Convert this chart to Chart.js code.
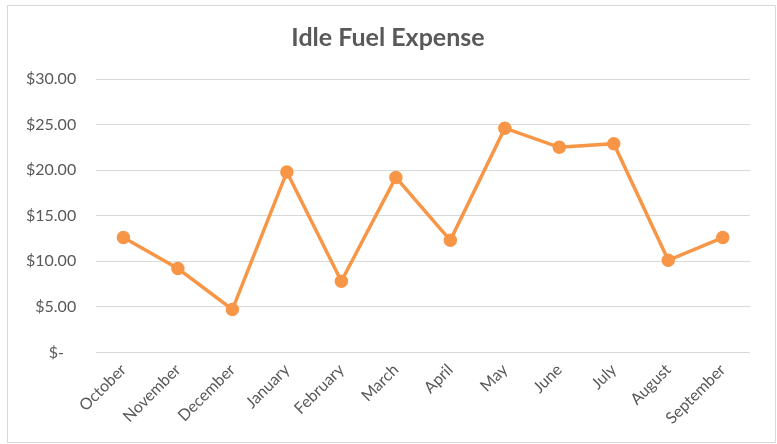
<!DOCTYPE html>
<html>
<head>
<meta charset="utf-8">
<style>
  html, body { margin: 0; padding: 0; background: #fff; }
  .chart-box {
    position: absolute; left: 7px; top: 5px;
    width: 767px; height: 436px;
    border: 1px solid #d9d9d9; background: #fff;
  }
</style>
</head>
<body>
<div class="chart-box"><canvas id="fuelChart"></canvas></div>
<script src="https://cdn.jsdelivr.net/npm/chart.js@4.4.0/dist/chart.umd.min.js"></script>
<script>
  // data
  const months = ['October', 'November', 'December', 'January', 'February', 'March',
                  'April', 'May', 'June', 'July', 'August', 'September'];
  const idleFuelCost = [12.6, 9.2, 4.7, 19.8, 7.8, 19.2, 12.3, 24.6, 22.5, 22.9, 10.1, 12.6];
  const yTicks = [0, 5, 10, 15, 20, 25, 30];

  const orange = '#F79646';
  const textGray = '#595959';
  const fontFamily = 'Lato, "Open Sans", sans-serif';

  const ctx = document.getElementById('fuelChart');
  new Chart(ctx, {
    type: 'line',
    data: {
      labels: months,
      datasets: [{
        label: 'Idle Fuel Expense',
        data: idleFuelCost,
        borderColor: orange,
        backgroundColor: orange,
        borderWidth: 3.5,
        pointRadius: 5,
        pointBackgroundColor: orange,
        pointBorderColor: orange,
        tension: 0
      }]
    },
    options: {
      responsive: true,
      maintainAspectRatio: false,
      animation: false,
      layout: { padding: { left: 18, right: 25, top: 8, bottom: 6 } },
      plugins: {
        legend: { display: false },
        tooltip: { enabled: false },
        title: {
          display: true,
          text: 'Idle Fuel Expense',
          color: textGray,
          font: { family: fontFamily, size: 25, weight: 'bold' },
          padding: { top: 9, bottom: 26 }
        }
      },
      scales: {
        x: {
          offset: true,
          grid: { display: false, drawTicks: false },
          border: { display: false },
          ticks: {
            color: textGray,
            font: { family: fontFamily, size: 16 },
            maxRotation: 45,
            minRotation: 45,
            padding: 8,
            autoSkip: false
          },
          // rotated labels may hang past the plot edge, like in Excel
          afterFit: function(axis) {
            axis.paddingLeft = 0;
            axis.paddingRight = 0;
          }
        },
        y: {
          min: 0,
          max: 30,
          afterBuildTicks: function(axis) {
            axis.ticks = yTicks.map(v => ({ value: v }));
          },
          // tick padding gets counted twice in the axis width, take one back
          afterFit: function(axis) {
            axis.width -= 20;
          },
          grid: { color: '#d9d9d9', lineWidth: 1, drawTicks: false },
          border: { display: false },
          ticks: {
            color: textGray,
            font: { family: fontFamily, size: 16 },
            padding: 20,
            callback: function(value) {
              // accounting format: zero shows as a dash with trailing space
              return value === 0 ? '$-\u00a0\u00a0\u00a0' : '$' + value.toFixed(2);
            }
          }
        }
      }
    }
  });
</script>
</body>
</html>
